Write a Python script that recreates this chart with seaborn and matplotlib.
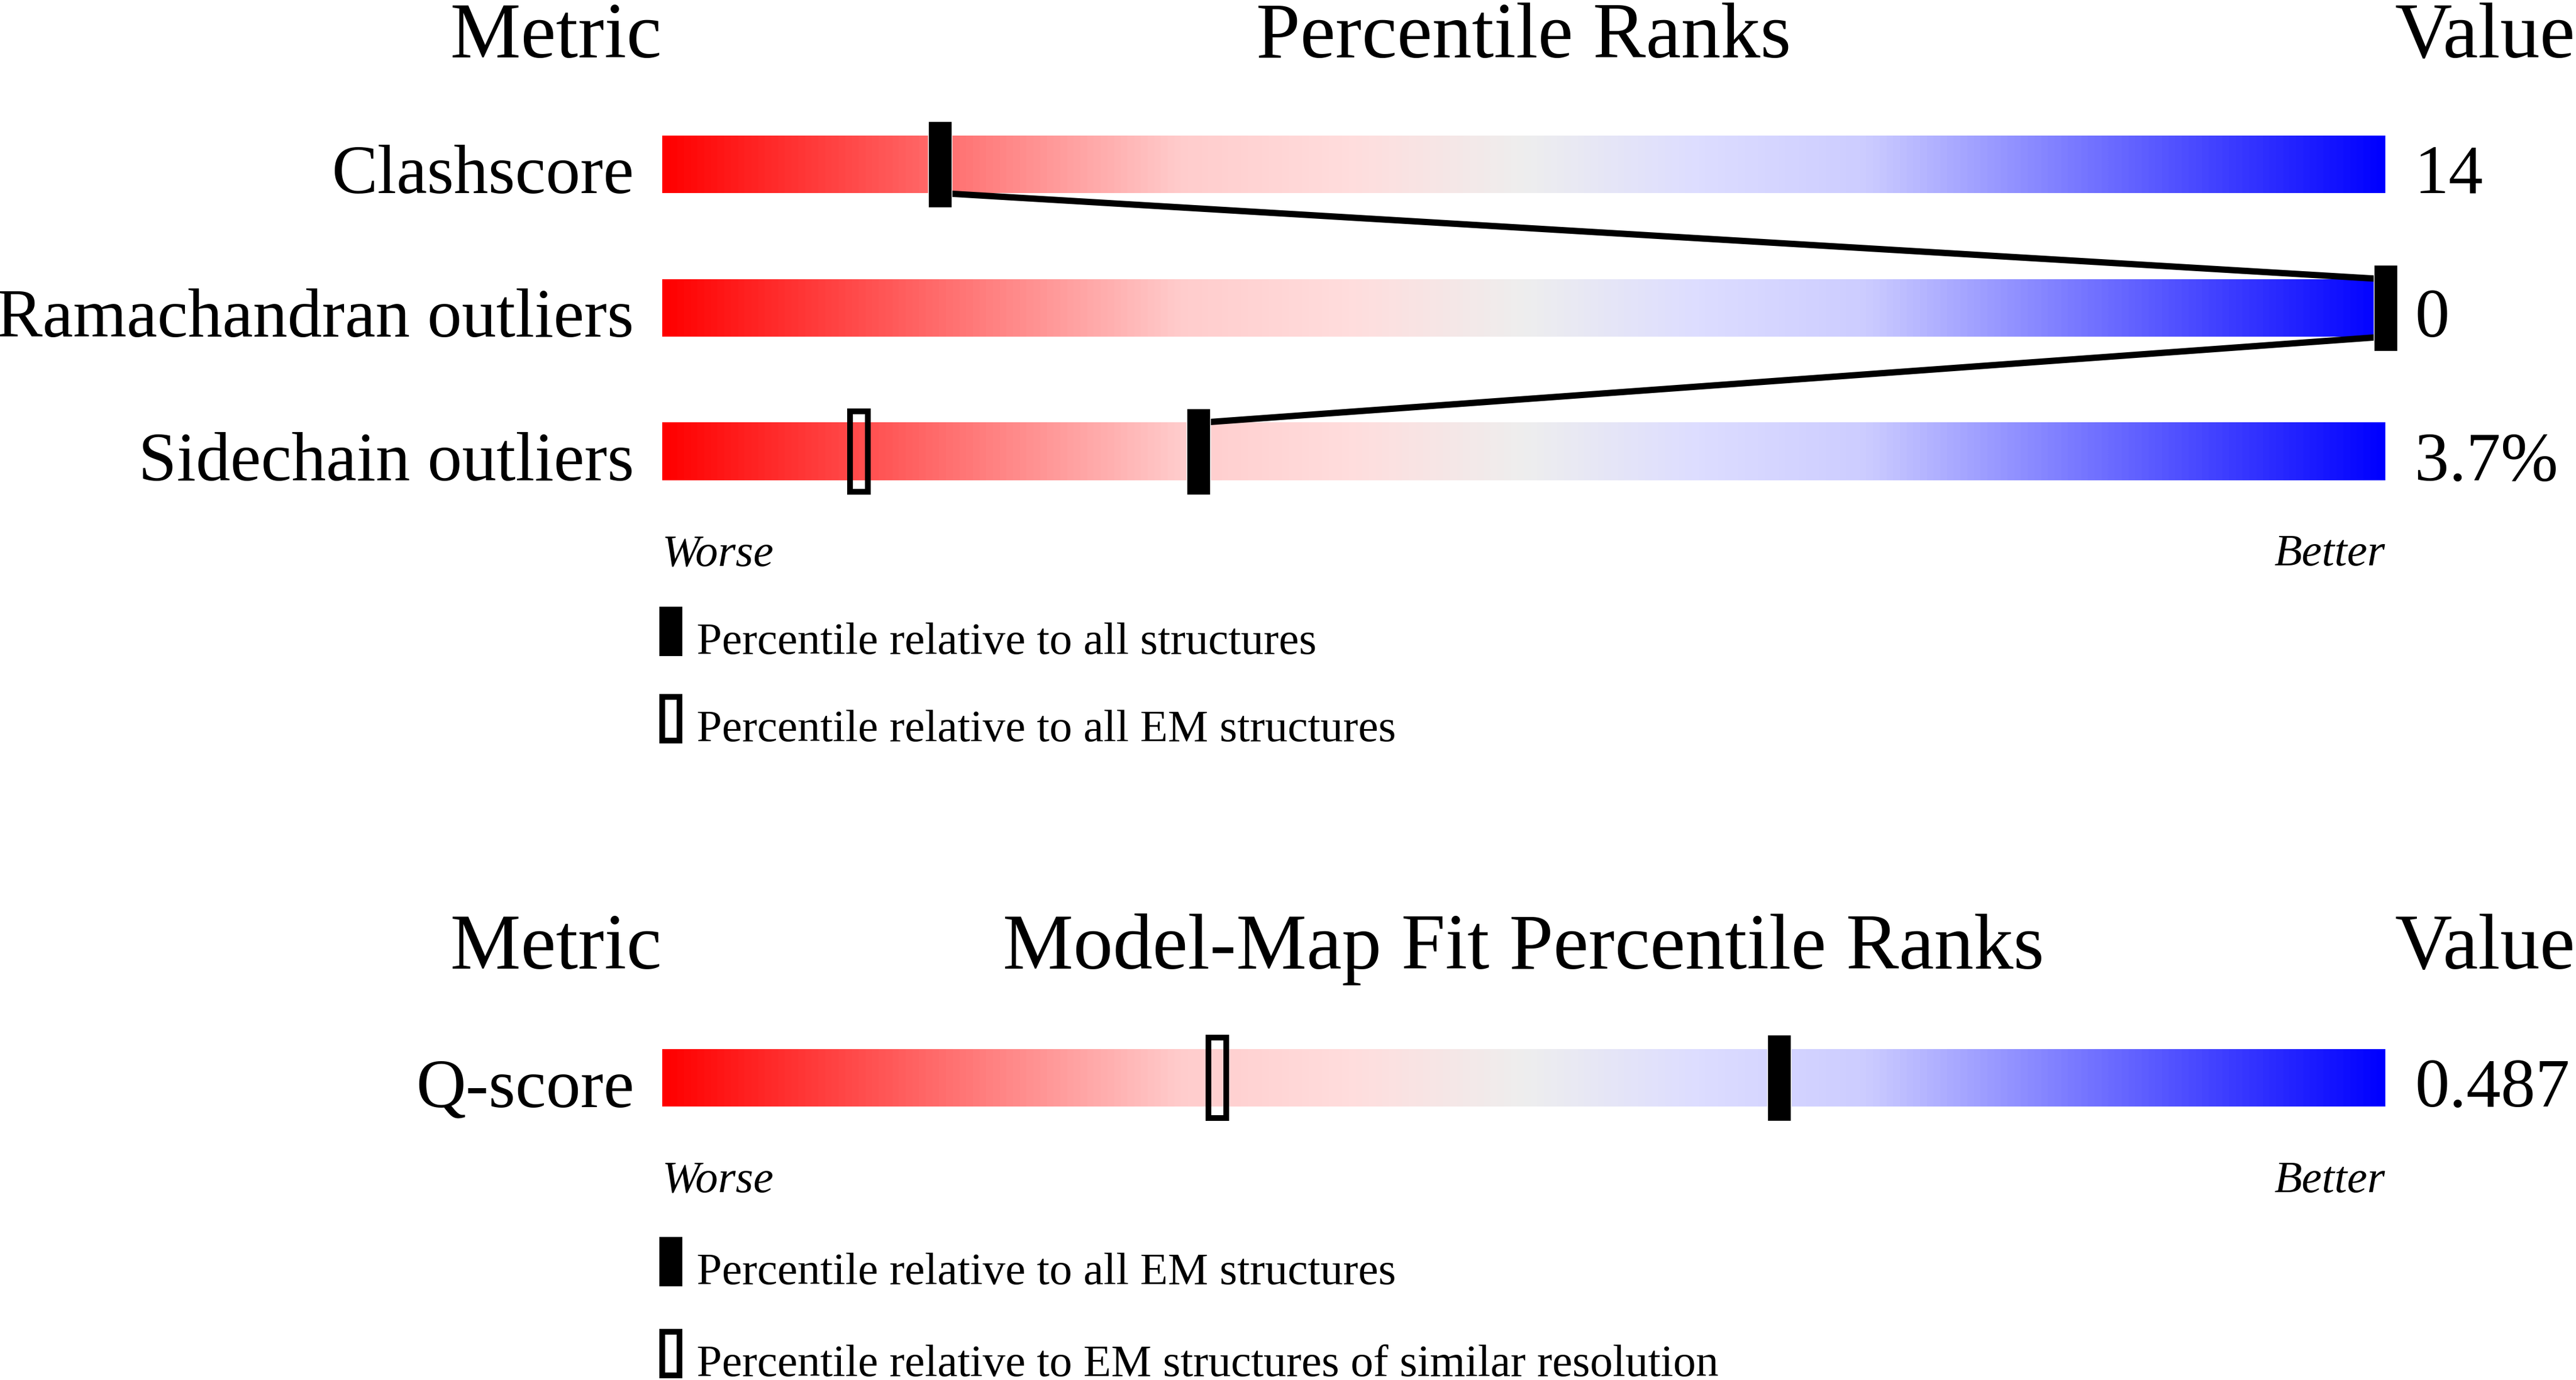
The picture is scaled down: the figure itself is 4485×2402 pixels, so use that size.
import numpy as np
import matplotlib
matplotlib.use("Agg")
import matplotlib.pyplot as plt
from matplotlib.colors import LinearSegmentedColormap
from matplotlib.patches import Rectangle
import seaborn as sns

# data
metrics = ["Clashscore", "Ramachandran outliers", "Sidechain outliers"]
metric_values = ["14", "0", "3.7%"]
pct_all = [16.1, 100.0, 31.1]          # filled marker: all structures
pct_all_em = [np.nan, np.nan, 11.4]    # open marker: all EM structures

fit_metrics = ["Q-score"]
fit_values = ["0.487"]
fit_pct_em = [64.8]                    # filled marker: all EM structures
fit_pct_similar = [32.2]               # open marker: similar resolution

legend1 = ["Percentile relative to all structures",
           "Percentile relative to all EM structures"]
legend2 = ["Percentile relative to all EM structures",
           "Percentile relative to EM structures of similar resolution"]

sns.set_theme(style="white")
plt.rcParams["font.family"] = ["Liberation Serif", "DejaVu Serif"]
plt.rcParams["text.color"] = "black"

W, H, DPI = 4485, 2402, 100
fig = plt.figure(figsize=(W / DPI, H / DPI), dpi=DPI, facecolor="white")


def fx(px):
    return px / W


def fy(px):
    return 1 - px / H


def pt(px):
    return px * 72 / DPI


HEAD = pt(138)
LAB = pt(120)
SMALL = pt(79)

cmap = LinearSegmentedColormap.from_list("pct", [
    (0.0, "#ff0000"), (0.3, "#ffcccc"), (0.4, "#ffdddd"), (0.5, "#eeeeee"),
    (0.6, "#ddddff"), (0.7, "#ccccff"), (1.0, "#0000ff")])
grad = np.linspace(0, 1, 512)[None, :]

BAR_H = 0.4      # 100 px of a 250 px row
MARK_H = 0.6     # 150 px
MARK_W = 41 / 30  # percent units (3000 px for 100 %)
OPEN_LW = 10


def draw_panel(ax, names, vals, filled, opened, connect):
    n = len(names)
    for i in range(n):
        ax.imshow(grad, cmap=cmap, aspect="auto", interpolation="bilinear",
                  extent=(0, 100, i + BAR_H / 2, i - BAR_H / 2), zorder=1)
        ax.text(-1.63, i + BAR_H / 2, names[i], ha="right", va="baseline",
                fontsize=LAB, color="black", clip_on=False)
        ax.text(101.7, i + BAR_H / 2, vals[i], ha="left", va="baseline",
                fontsize=LAB, color="black", clip_on=False)
    if connect and n > 1:
        xs, ys = [], []
        for i in range(n):
            if i > 0:
                xs.append(filled[i]); ys.append(i - BAR_H / 2)
            if i < n - 1:
                xs.append(filled[i]); ys.append(i + BAR_H / 2)
        sns.lineplot(x=xs, y=ys, sort=False, estimator=None, ax=ax,
                     color="black", zorder=2, legend=False)
        for ln in ax.lines:
            ln.set_linewidth(pt(11))
            ln.set_solid_joinstyle("miter")
    rows = np.arange(n)
    ax.bar(filled, MARK_H, width=MARK_W, bottom=rows - MARK_H / 2,
           color="black", zorder=3, clip_on=False)
    ow = MARK_W - OPEN_LW / 30
    oh = MARK_H - OPEN_LW / 250
    ax.bar(opened, oh, width=ow, bottom=rows - oh / 2, fill=False,
           edgecolor="black", linewidth=pt(OPEN_LW), zorder=3, clip_on=False)
    ax.set_xlim(0, 100)
    ax.set_ylim(n - 0.5, -0.5)
    ax.axis("off")


def headers(title, base):
    fig.text(fx(1152), fy(base), "Metric", ha="right", va="baseline", fontsize=HEAD)
    fig.text(fx(2653), fy(base), title, ha="center", va="baseline", fontsize=HEAD)
    fig.text(fx(4484), fy(base), "Value", ha="right", va="baseline", fontsize=HEAD)


def worse_better(base):
    fig.text(fx(1153), fy(base), "Worse", ha="left", va="baseline",
             fontsize=SMALL, style="italic")
    fig.text(fx(4153), fy(base), "Better", ha="right", va="baseline",
             fontsize=SMALL, style="italic")


def legend(labels, tops):
    for k, (lab, top) in enumerate(zip(labels, tops)):
        if k == 0:
            r = Rectangle((fx(1148), fy(top + 86)), 40 / W, 86 / H,
                          transform=fig.transFigure, facecolor="black",
                          edgecolor="none")
        else:
            r = Rectangle((fx(1153), fy(top + 81)), 30 / W, 76 / H,
                          transform=fig.transFigure, facecolor="none",
                          edgecolor="black", linewidth=pt(10))
        fig.patches.append(r)
        fig.text(fx(1213), fy(top + 82), lab, ha="left", va="baseline",
                 fontsize=SMALL)


# panel 1: geometry quality
headers("Percentile Ranks", 100)
ax1 = fig.add_axes([fx(1153), fy(911), 3000 / W, 750 / H])
draw_panel(ax1, metrics, metric_values, pct_all, pct_all_em, connect=True)
worse_better(984)
legend(legend1, [1056, 1208])

# panel 2: model-map fit
headers("Model-Map Fit Percentile Ranks", 1686)
ax2 = fig.add_axes([fx(1153), fy(2001), 3000 / W, 250 / H])
draw_panel(ax2, fit_metrics, fit_values, fit_pct_em, fit_pct_similar, connect=False)
worse_better(2075)
legend(legend2, [2153, 2313])

fig.savefig("out.png", dpi=DPI, facecolor="white")
